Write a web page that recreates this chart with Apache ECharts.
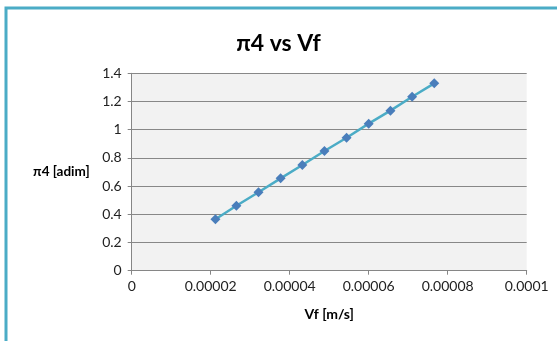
<!DOCTYPE html>
<html>
<head>
<meta charset="utf-8">
<script src="https://cdn.jsdelivr.net/npm/echarts@6/dist/echarts.min.js"></script>
<style>html,body{margin:0;padding:0;background:#fff;}#c{width:557px;height:341px;}</style>
</head>
<body>
<div id="c"></div>
<script>
const vf = [0.0000212, 0.0000265, 0.0000321, 0.0000377, 0.0000432, 0.0000488, 0.0000544, 0.0000600, 0.0000655, 0.0000710, 0.0000766];
const pi4 = [0.365, 0.461, 0.556, 0.655, 0.750, 0.849, 0.943, 1.043, 1.135, 1.234, 1.329];
const xTicks = { min: 0, max: 0.0001, interval: 0.00002 };
const yTicks = { min: 0, max: 1.4, interval: 0.2 };
const titleText = 'π4 vs Vf';
const xName = 'Vf [m/s]';
const yName = 'π4 [adim]';

const font = 'Lato, "Open Sans", sans-serif';
function fmt(v){ let s = (+v).toFixed(6); s = s.replace(/0+$/,'').replace(/\.$/,''); return s; }
const chart = echarts.init(document.getElementById('c'));
chart.setOption({
  animation: false,
  backgroundColor: '#fff',
  title: { text: titleText, left: 'center', top: 27, textStyle: { fontFamily: font, fontSize: 23, fontWeight: 'bold', color: '#000' } },
  graphic: [{ type: 'rect', shape: { x: 6, y: 8, width: 600, height: 400 }, style: { fill: 'none', stroke: '#4bacc6', lineWidth: 3 }, silent: true }],
  grid: { left: 131.7, right: 30.3, top: 73.3, bottom: 70.3, show: true, backgroundColor: '#f2f2f2', borderWidth: 0 },
  xAxis: {
    type: 'value', min: xTicks.min, max: xTicks.max, interval: xTicks.interval,
    name: xName, nameLocation: 'middle', nameGap: 37,
    nameTextStyle: { fontFamily: font, fontSize: 14, fontWeight: 'bold', color: '#000' },
    axisLine: { show: true, lineStyle: { color: '#868686' } },
    axisTick: { show: true, length: 4, lineStyle: { color: '#868686' } },
    axisLabel: { formatter: fmt, fontFamily: font, fontSize: 14, color: '#222', margin: 9 },
    splitLine: { show: false }
  },
  yAxis: {
    type: 'value', min: yTicks.min, max: yTicks.max, interval: yTicks.interval,
    name: yName, nameLocation: 'middle', nameRotate: 0, nameGap: 42,
    nameTextStyle: { fontFamily: font, fontSize: 13.5, fontWeight: 'bold', color: '#000', align: 'right', verticalAlign: 'middle' },
    axisLine: { show: true, lineStyle: { color: '#868686' } },
    axisTick: { show: true, length: 4, lineStyle: { color: '#868686' } },
    axisLabel: { formatter: fmt, fontFamily: font, fontSize: 14, color: '#222', margin: 10 },
    splitLine: { show: true, lineStyle: { color: '#888', width: 1 } }
  },
  series: [{
    type: 'line',
    data: vf.map((x, i) => [x, pi4[i]]),
    symbol: 'diamond', symbolSize: 10,
    lineStyle: { color: '#4bacc6', width: 2.5 },
    itemStyle: { color: '#4a7ebb', borderWidth: 0 }
  }]
});
</script>
</body>
</html>
